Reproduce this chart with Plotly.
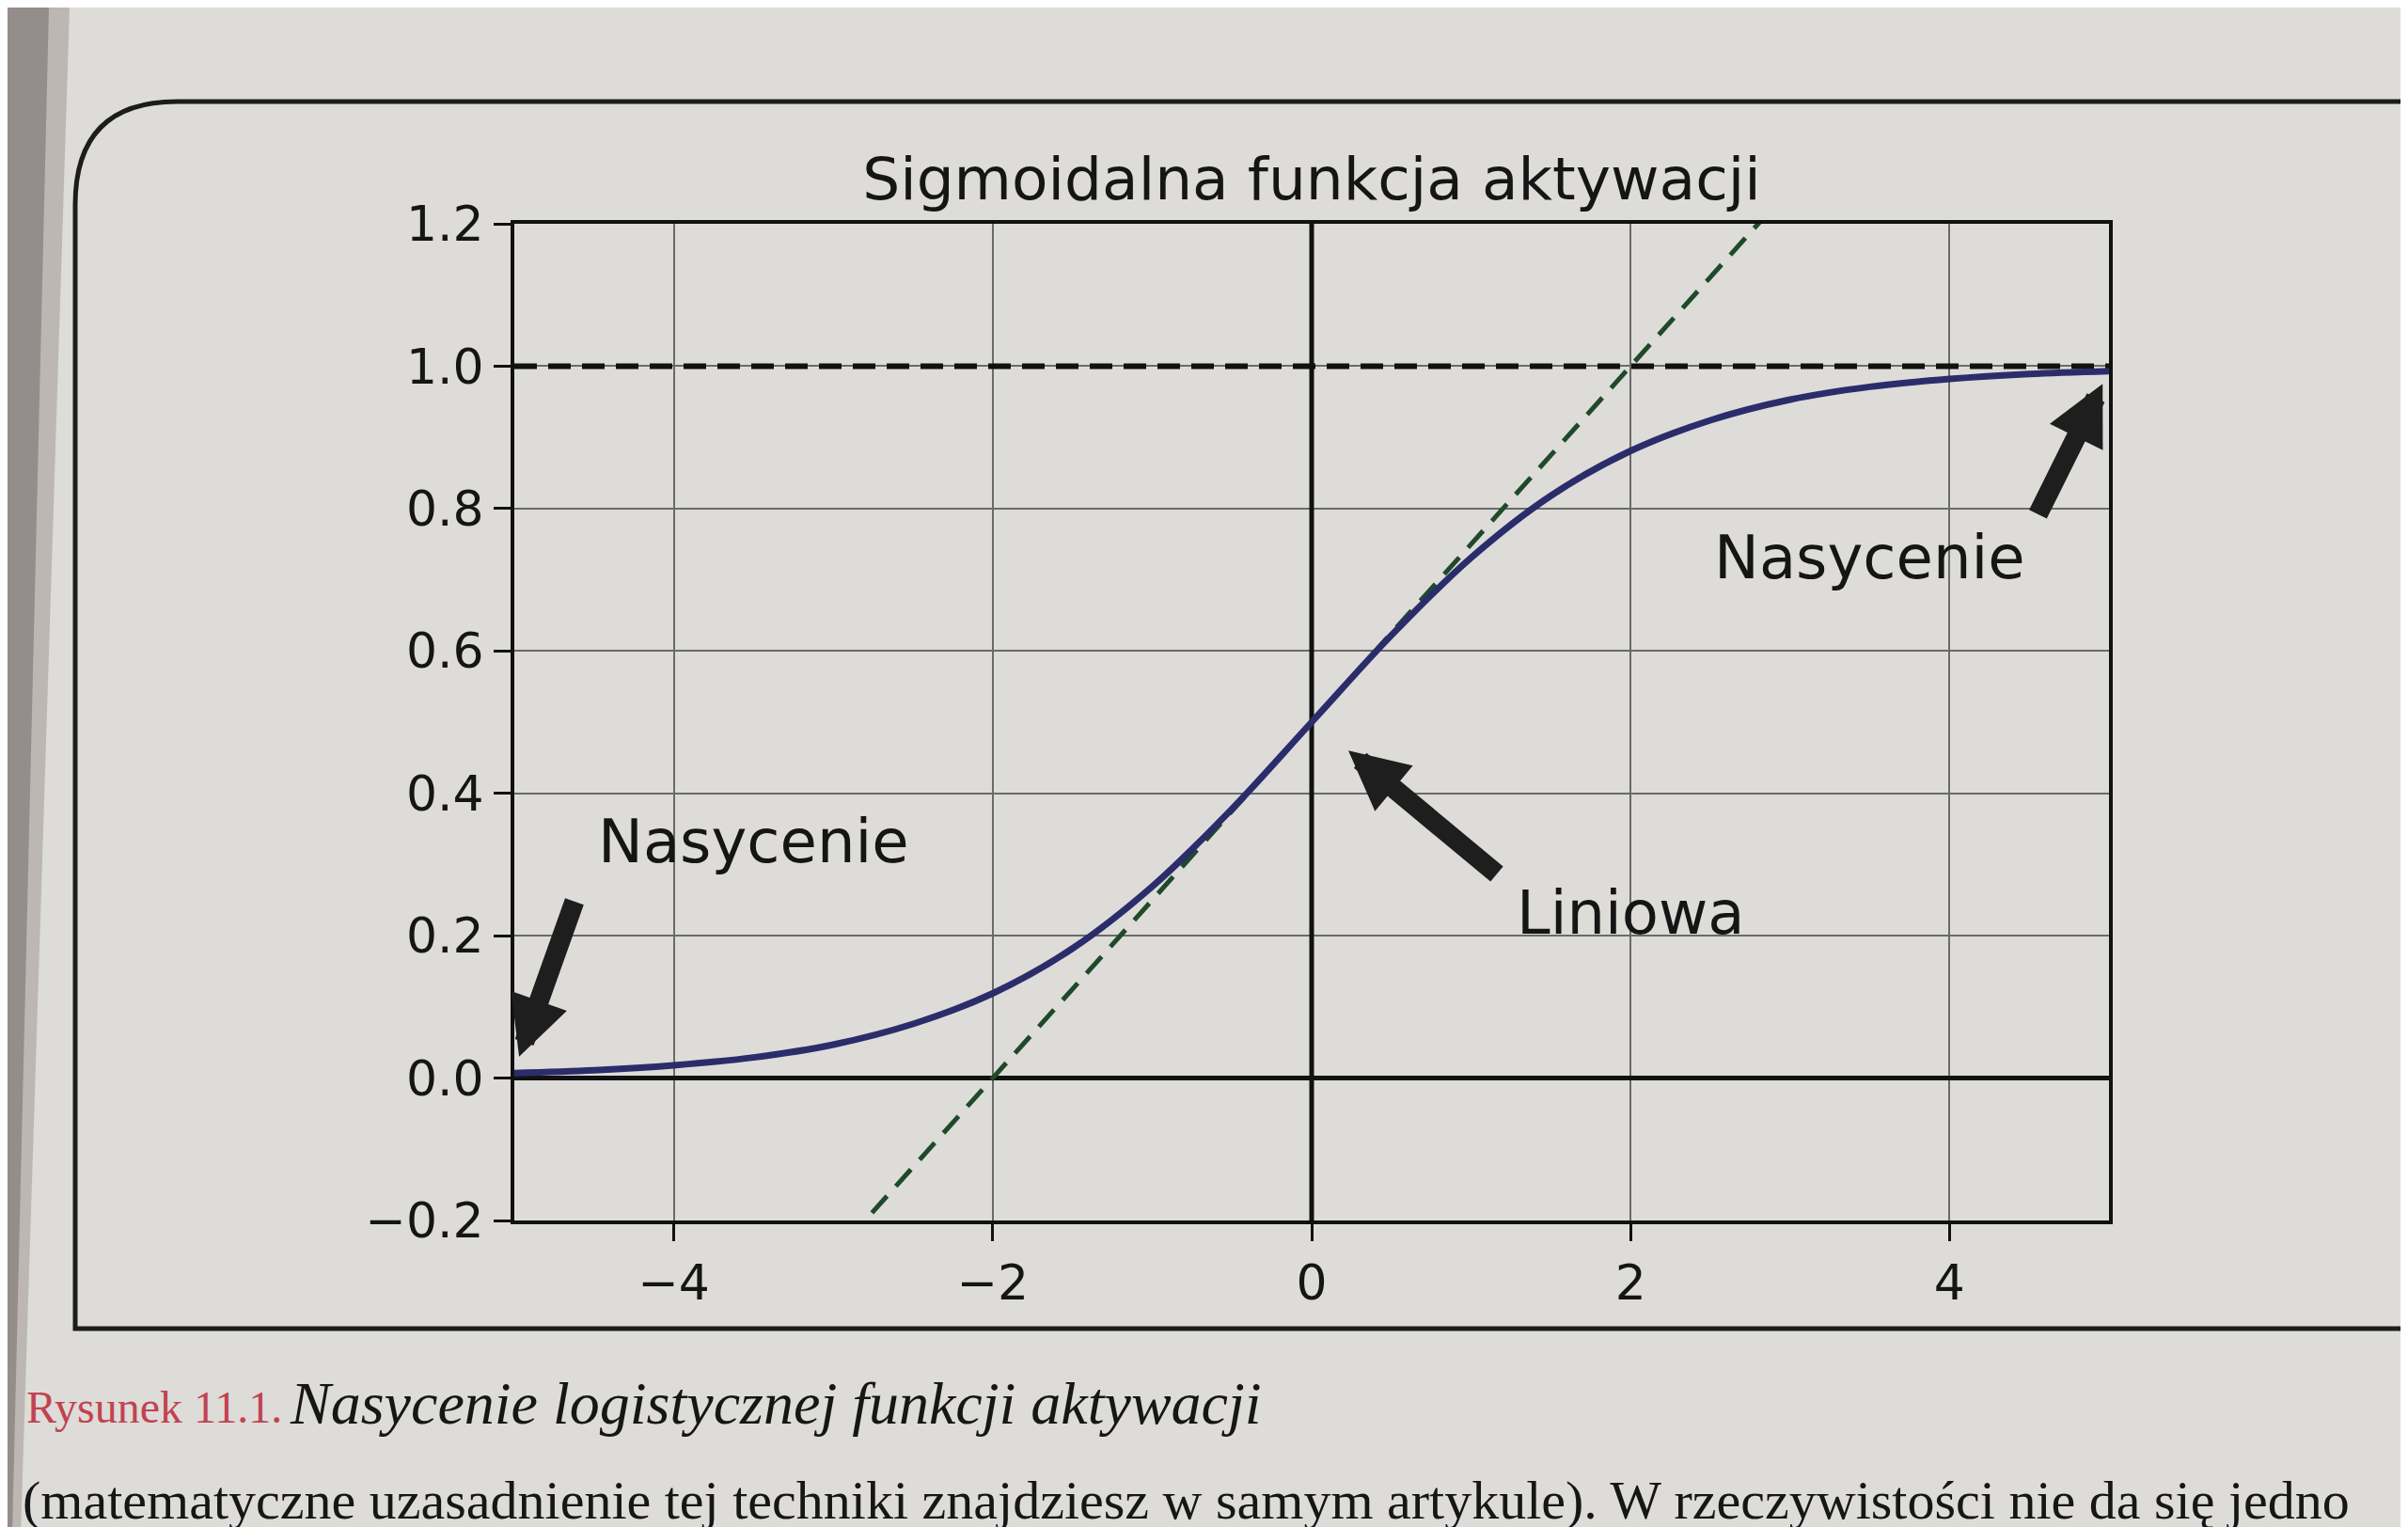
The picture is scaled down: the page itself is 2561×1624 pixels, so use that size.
import plotly.graph_objects as go

# ---------------- data ----------------
z_values = [-5.0, -4.5, -4.0, -3.5, -3.0, -2.5, -2.0, -1.5, -1.0, -0.5, 0.0,
            0.5, 1.0, 1.5, 2.0, 2.5, 3.0, 3.5, 4.0, 4.5, 5.0]
sigmoid_values = [0.007, 0.011, 0.018, 0.029, 0.047, 0.076, 0.119, 0.182, 0.269, 0.378, 0.500,
                  0.622, 0.731, 0.818, 0.881, 0.924, 0.953, 0.971, 0.982, 0.989, 0.993]
tangent_x = [-5, 5]
tangent_y = [-0.75, 1.75]
asymptote_x = [-5, 5]
asymptote_y = [1, 1]
zero_x = [-5, 5]
zero_y = [0, 0]
vert_x = [0, 0]
vert_y = [-0.2, 1.2]

x_tick_vals = [-4, -2, 0, 2, 4]
x_tick_text = ["\u22124", "\u22122", "0", "2", "4"]
y_tick_vals = [-0.2, 0.0, 0.2, 0.4, 0.6, 0.8, 1.0, 1.2]
y_tick_text = ["\u22120.2", "0.0", "0.2", "0.4", "0.6", "0.8", "1.0", "1.2"]

title_text = "Sigmoidalna funkcja aktywacji"
label_texts = ["Nasycenie", "Nasycenie", "Liniowa"]
label_x = [-3.5, 3.5, 2.0]
label_y = [0.3, 0.7, 0.2]
arrow_tip_x = [-4.97, 4.96, 0.23]
arrow_tip_y = [0.03, 0.975, 0.46]
arrow_tail_x = [-4.62, 4.55, 1.17]
arrow_tail_y = [0.25, 0.79, 0.285]

caption_label = "Rysunek 11.1."
caption_text = "Nasycenie logistycznej funkcji aktywacji"
body_text = "(matematyczne uzasadnienie tej techniki znajdziesz w samym artykule). W rzeczywistości nie da się jedno"

# ---------------- layout geometry ----------------
W, H = 2561, 1624
L, R, T, B = 539, 2235, 230, 1290
PAPER = "#dddcd9"


def px(p):
    return (p - L) / (R - L)


def py(p):
    return (B - p) / (B - T)


fig = go.Figure()

fig.add_trace(go.Scatter(x=zero_x, y=zero_y, mode="lines",
                         line=dict(color="#111111", width=5), hoverinfo="skip"))
fig.add_trace(go.Scatter(x=asymptote_x, y=asymptote_y, mode="lines",
                         line=dict(color="#111111", width=6, dash="24px,12px"), hoverinfo="skip"))
fig.add_trace(go.Scatter(x=vert_x, y=vert_y, mode="lines",
                         line=dict(color="#111111", width=5), hoverinfo="skip"))
fig.add_trace(go.Scatter(x=tangent_x, y=tangent_y, mode="lines",
                         line=dict(color="#1f4a2a", width=5, dash="24px,14px"), hoverinfo="skip"))
fig.add_trace(go.Scatter(x=z_values, y=sigmoid_values, mode="lines",
                         line=dict(color="#2b2d6b", width=7, shape="spline"), hoverinfo="skip"))

annotations = []
for t, xx, yy in zip(label_texts, label_x, label_y):
    annotations.append(dict(x=xx, y=yy, xref="x", yref="y", text=t, showarrow=False,
                            xanchor="center", yanchor="bottom", yshift=-15,
                            font=dict(family="DejaVu Sans", size=64, color="#151515")))
for tx, ty, ax, ay in zip(arrow_tip_x, arrow_tip_y, arrow_tail_x, arrow_tail_y):
    annotations.append(dict(x=tx, y=ty, xref="x", yref="y", ax=ax, ay=ay,
                            axref="x", ayref="y", text="", showarrow=True,
                            arrowhead=2, arrowsize=0.6, arrowwidth=21,
                            arrowcolor="#1e1e1e"))

# caption
annotations.append(dict(x=px(18), y=py(1517), xref="paper", yref="paper",
                        text=caption_label, showarrow=False, xanchor="left", yanchor="bottom",
                        font=dict(family="Liberation Serif", size=48, color="#c2434f")))
annotations.append(dict(x=px(298), y=py(1522), xref="paper", yref="paper",
                        text="<i>" + caption_text + "</i>", showarrow=False,
                        xanchor="left", yanchor="bottom",
                        font=dict(family="Liberation Serif", size=64, color="#161616")))
annotations.append(dict(x=px(14), y=py(1622), xref="paper", yref="paper",
                        text=body_text, showarrow=False, xanchor="left", yanchor="bottom",
                        font=dict(family="Liberation Serif", size=58, color="#161616")))

shapes = [
    # book binding shadow
    dict(type="path", xref="paper", yref="paper", layer="below",
         path=f"M {px(0)},{py(0)} L {px(66)},{py(0)} L {px(14)},{py(H)} L {px(0)},{py(H)} Z",
         fillcolor="#bdb7b4", line=dict(width=0)),
    dict(type="path", xref="paper", yref="paper", layer="below",
         path=f"M {px(0)},{py(0)} L {px(44)},{py(0)} L {px(5)},{py(H)} L {px(0)},{py(H)} Z",
         fillcolor="#958d8b", line=dict(width=0)),
    # figure frame
    dict(type="path", xref="paper", yref="paper", layer="below",
         path=(f"M {px(W + 10)},{py(100)} L {px(180)},{py(100)} "
               f"Q {px(72)},{py(100)} {px(72)},{py(210)} "
               f"L {px(72)},{py(1405)} L {px(W + 10)},{py(1405)}"),
         line=dict(color="#1c1c1c", width=5)),
]

axis_common = dict(showline=True, mirror=True, linecolor="#111111", linewidth=4,
                   ticks="outside", ticklen=18, tickwidth=3, tickcolor="#111111",
                   showgrid=True, gridcolor="#6a6a6a", gridwidth=1.5, zeroline=False,
                   tickfont=dict(family="DejaVu Sans", size=52, color="#151515"))

fig.update_layout(
    width=W, height=H,
    margin=dict(l=L, r=W - R, t=T, b=H - B, pad=0),
    paper_bgcolor=PAPER, plot_bgcolor=PAPER,
    showlegend=False,
    title=dict(text=title_text, x=0.5, xref="paper", xanchor="center",
               y=1, yref="paper", yanchor="bottom", pad=dict(b=26),
               font=dict(family="DejaVu Sans", size=63, color="#151515")),
    xaxis=dict(range=[-5, 5], tickvals=x_tick_vals, ticktext=x_tick_text, **axis_common),
    yaxis=dict(range=[-0.2, 1.2], tickvals=y_tick_vals, ticktext=y_tick_text, **axis_common),
    annotations=annotations,
    shapes=shapes,
)

fig.write_html("out.html")
